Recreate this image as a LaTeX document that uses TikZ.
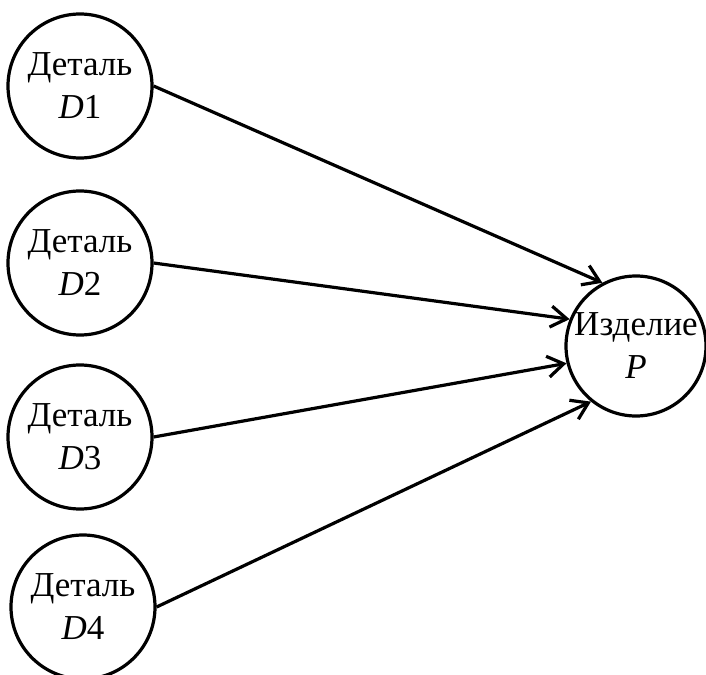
\documentclass[tikz,border=0pt]{standalone}
\usepackage{fontspec}
\setmainfont{Liberation Serif}
\usetikzlibrary{arrows.meta}
\begin{document}
\begin{tikzpicture}[x=1pt,y=-1pt,
  part/.style={circle,draw,line width=3.2pt,minimum size=144pt,inner sep=0pt,
    align=center,font=\fontsize{35}{43}\selectfont},
  product/.style={part,minimum size=140pt},
  link/.style={line width=3.2pt,-{Straight Barb[length=16pt,width=21pt,line width=3.2pt]}}]
  \useasboundingbox (0,0) rectangle (706,674);
  \node[part] (d1) at (80,86) {Деталь\\\textit{D}1};
  \node[part] (d2) at (80,263) {Деталь\\\textit{D}2};
  \node[part] (d3) at (80,437) {Деталь\\\textit{D}3};
  \node[part] (d4) at (83,607) {Деталь\\\textit{D}4};
  \node[product] (p) at (636,346) {Изделие\\\textit{P}};
  \draw[link] (d1.east) -- (p.118);
  \draw[link] (d2.east) -- (p.158);
  \draw[link] (d3.east) -- (p.194);
  \draw[link] (d4.east) -- (p.231);
\end{tikzpicture}
\end{document}
